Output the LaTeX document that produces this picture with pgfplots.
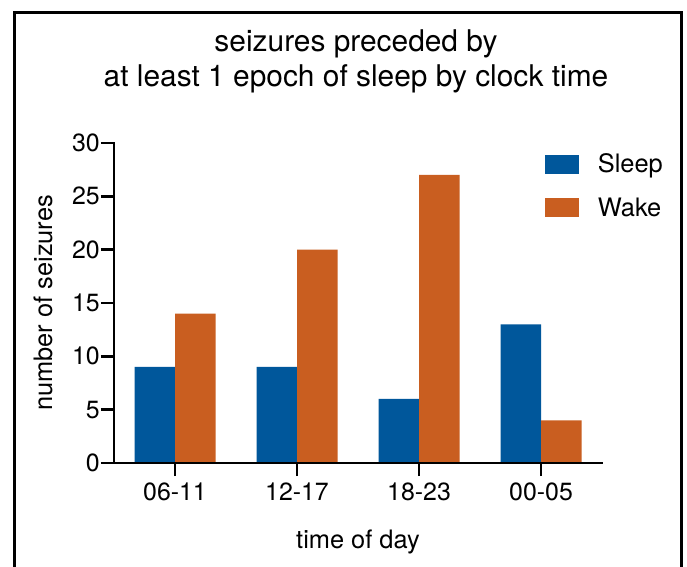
\documentclass[border=0pt]{standalone}
\usepackage{fontspec}
\setmainfont{TeX Gyre Heros}
\usepackage{pgfplots}
\pgfplotsset{compat=1.18}
\definecolor{sleepblue}{RGB}{0,87,155}
\definecolor{wakeorange}{RGB}{201,94,32}
\begin{document}
\begin{tikzpicture}[x=1bp,y=1bp]
\useasboundingbox (0,0) rectangle (687,567);
\fill[white] (0,0) rectangle (687,567);
\draw[line width=3bp] (14,-5) -- (14,554) -- (681,554) -- (681,-5);
\begin{axis}[
  at={(114bp,104bp)}, anchor=south west,
  scale only axis, width=488bp, height=320bp,
  xmin=-0.5, xmax=3.5, ymin=0, ymax=30,
  axis lines=left, axis line style={-, line width=2.8bp, line cap=rect},
  axis on top,
  ybar=0pt, bar width=40.5bp,
  xtick={0,1,2,3}, xticklabels={06-11,12-17,18-23,00-05},
  ytick={0,5,10,15,20,25,30},
  tick align=outside, major tick length=13bp,
  tick style={line width=2.8bp, black},
  tick label style={font=\fontsize{25}{30}\selectfont},
  yticklabel style={inner sep=1bp},
  xticklabel style={inner sep=2bp, yshift=-5bp},
  /pgf/number format/assume math mode=true,
  label style={font=\fontsize{25.5}{30}\selectfont},
  xlabel={time of day},
  xlabel style={at={(axis description cs:0.5,0)}, anchor=base, yshift=-86bp},
  ylabel={number of seizures},
  ylabel style={at={(axis description cs:-0.1455,0.5)}, anchor=center},
  legend style={at={(rel axis cs:0.883,0.966)}, anchor=north west,
    draw=none, fill=none, inner sep=0pt, outer sep=0pt,
    font=\fontsize{25.5}{30}\selectfont,
    row sep=23.5bp, column sep=19bp,
    nodes={inner sep=0pt}},
  legend cell align=left,
  legend image code/.code={\fill[#1] (0bp,-9.5bp) rectangle (34bp,9.5bp);},
]
\addplot[fill=sleepblue, draw=none] coordinates {(0,9) (1,9) (2,6) (3,13)};
\addplot[fill=wakeorange, draw=none] coordinates {(0,14) (1,20) (2,27) (3,4)};
\legend{Sleep, Wake}
\end{axis}
\node[anchor=base, font=\fontsize{30}{36}\selectfont] at (356,515) {seizures preceded by};
\node[anchor=base, font=\fontsize{30}{36}\selectfont] at (356,480) {at least 1 epoch of sleep by clock time};
\end{tikzpicture}
\end{document}
